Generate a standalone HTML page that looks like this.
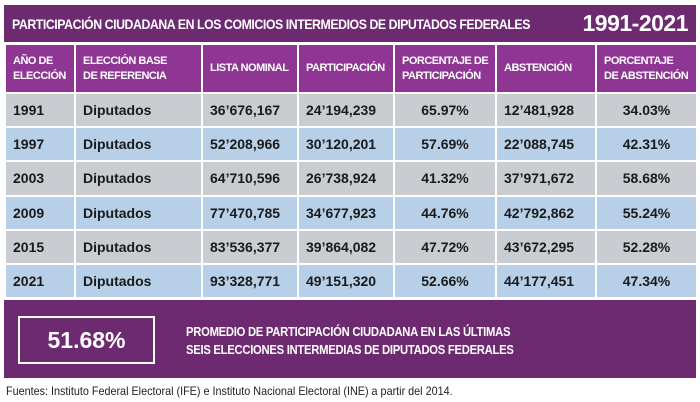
<!DOCTYPE html>
<html><head><meta charset="utf-8"><style>
body{margin:0;width:700px;height:402px;background:#fff;font-family:"Liberation Sans",sans-serif;position:relative;overflow:hidden}
.title{position:absolute;left:4px;top:5px;width:692px;height:37px;background:#6d2a71;color:#fff;font-weight:bold;}
.title .t{position:absolute;left:8px;top:11px;font-size:14px;letter-spacing:-0.5px;transform:scaleX(0.88);transform-origin:left;white-space:nowrap}
.title .y{position:absolute;right:8px;top:5px;font-size:23px;font-weight:900;letter-spacing:-0.5px}
table{position:absolute;left:4px;top:43px;border-collapse:collapse;table-layout:fixed;width:692px}
td{border:2px solid #fff;padding:0 0 0 7px;font-weight:bold;font-size:14px;color:#1a1a1a;white-space:nowrap;overflow:hidden}
tr{height:34.2px}
tr.h{height:49px}
tr.h td{background:#8f3593;color:#fff;font-size:11px;line-height:15px;letter-spacing:-0.5px}
tr.g td{background:#c9cdd1}
tr.b td{background:#b8cfe8}
td.c{text-align:center;padding:0}
.box{position:absolute;left:4px;top:300px;width:692px;height:78px;background:#6d2a71}
.inner{position:absolute;left:14px;top:16px;width:137px;height:48px;border:2px solid #fff;box-sizing:border-box;color:#fff;font-size:23px;font-weight:900;text-align:center;line-height:44px}
.txt{position:absolute;left:182px;top:23px;color:#fff;font-weight:bold;font-size:12.5px;line-height:18px;letter-spacing:-0.3px;transform:scaleX(0.9);transform-origin:left;white-space:nowrap}
.foot{position:absolute;left:6px;top:384px;font-size:12px;color:#222;transform:scaleX(0.9);transform-origin:left;white-space:nowrap}
</style></head><body>
<div class="title"><span class="t">PARTICIPACIÓN CIUDADANA EN LOS COMICIOS INTERMEDIOS DE DIPUTADOS FEDERALES</span><span class="y">1991-2021</span></div>
<table>
<colgroup><col style="width:70px"><col style="width:127px"><col style="width:96px"><col style="width:96px"><col style="width:102px"><col style="width:100px"><col style="width:101px"></colgroup>
<tr class="h"><td>AÑO DE<br>ELECCIÓN</td><td>ELECCIÓN BASE<br>DE REFERENCIA</td><td>LISTA NOMINAL</td><td>PARTICIPACIÓN</td><td>PORCENTAJE DE<br>PARTICIPACIÓN</td><td>ABSTENCIÓN</td><td>PORCENTAJE<br>DE ABSTENCIÓN</td></tr>
<tr class="g"><td>1991</td><td>Diputados</td><td>36’676,167</td><td>24’194,239</td><td class="c">65.97%</td><td>12’481,928</td><td class="c">34.03%</td></tr>
<tr class="b"><td>1997</td><td>Diputados</td><td>52’208,966</td><td>30’120,201</td><td class="c">57.69%</td><td>22’088,745</td><td class="c">42.31%</td></tr>
<tr class="g"><td>2003</td><td>Diputados</td><td>64’710,596</td><td>26’738,924</td><td class="c">41.32%</td><td>37’971,672</td><td class="c">58.68%</td></tr>
<tr class="b"><td>2009</td><td>Diputados</td><td>77’470,785</td><td>34’677,923</td><td class="c">44.76%</td><td>42’792,862</td><td class="c">55.24%</td></tr>
<tr class="g"><td>2015</td><td>Diputados</td><td>83’536,377</td><td>39’864,082</td><td class="c">47.72%</td><td>43’672,295</td><td class="c">52.28%</td></tr>
<tr class="b"><td>2021</td><td>Diputados</td><td>93’328,771</td><td>49’151,320</td><td class="c">52.66%</td><td>44’177,451</td><td class="c">47.34%</td></tr>
</table>
<div class="box"><div class="inner">51.68%</div><div class="txt">PROMEDIO DE PARTICIPACIÓN CIUDADANA EN LAS ÚLTIMAS<br>SEIS ELECCIONES INTERMEDIAS DE DIPUTADOS FEDERALES</div></div>
<div class="foot">Fuentes: Instituto Federal Electoral (IFE) e Instituto Nacional Electoral (INE) a partir del 2014.</div>
</body></html>
